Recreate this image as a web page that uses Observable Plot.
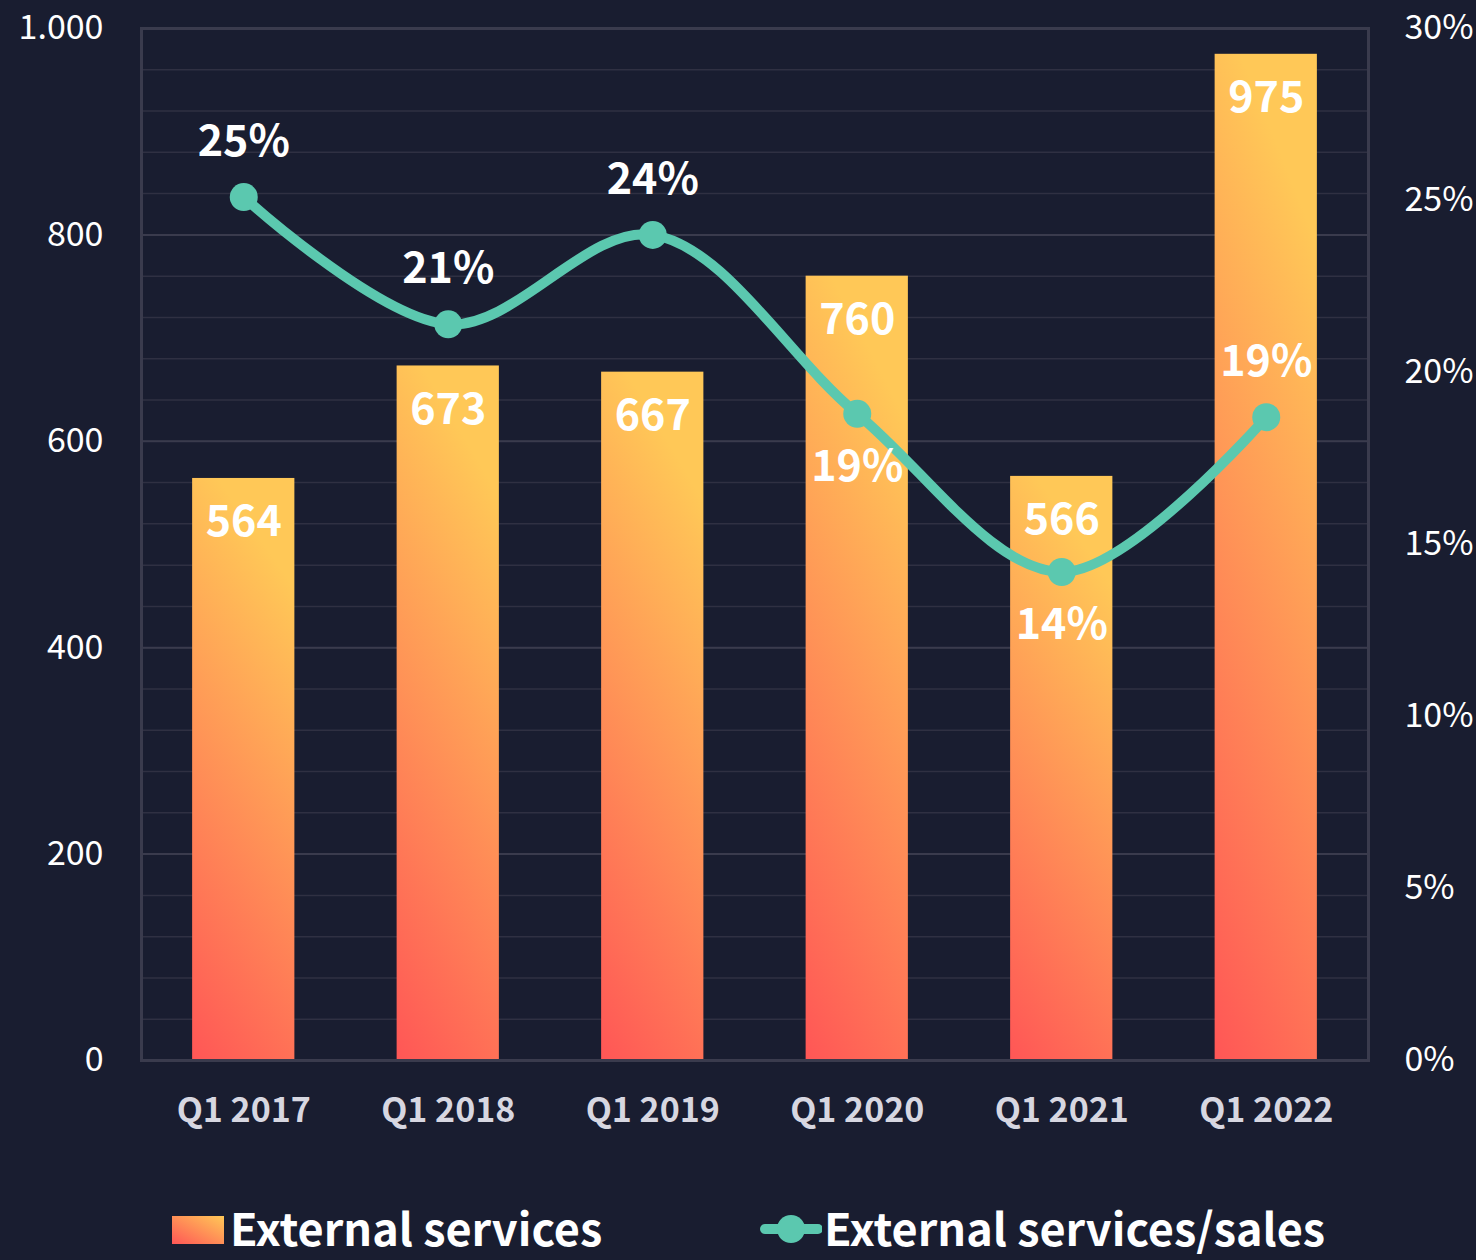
<!DOCTYPE html>
<html>
<head>
<meta charset="utf-8">
<script src="https://cdn.jsdelivr.net/npm/d3@7"></script>
<script src="https://cdn.jsdelivr.net/npm/@observablehq/plot@0.6"></script>
<style>
  html, body { margin: 0; padding: 0; background: #191d30; }
  body { width: 1476px; height: 1260px; overflow: hidden; font-family: 'Noto Sans CJK SC', 'Source Sans Pro', sans-serif; }
  #legend { position: absolute; top: 1203px; left: 0; width: 1476px; height: 46px; color: white; font-weight: bold; font-size: 45px; line-height: 1; }
  .item { position: absolute; top: 0; display: flex; align-items: center; height: 46px; }
  .item svg { margin-top: 6px; }
  .item span { margin-left: 6px; line-height: 1; }
</style>
</head>
<body>
<div id="chart"></div>
<div id="legend">
  <div class="item" style="left:172px">
    <svg width="52" height="30"><defs><linearGradient id="lg1" x1="0" y1="1" x2="1" y2="0"><stop offset="0" stop-color="#ff5656"/><stop offset="1" stop-color="#ffc857"/></linearGradient></defs><rect width="52" height="28" y="2" fill="url(#lg1)"/></svg>
    <span id="l1"></span>
  </div>
  <div class="item" style="left:760px">
    <svg width="62" height="32"><line x1="5" x2="58" y1="16" y2="16" stroke="#5bc8af" stroke-width="10" stroke-linecap="round"/><circle cx="31" cy="16" r="14" fill="#5bc8af"/></svg>
    <span id="l2" style="margin-left:2px"></span>
  </div>
</div>
<script>
const quarters = ["Q1 2017", "Q1 2018", "Q1 2019", "Q1 2020", "Q1 2021", "Q1 2022"];
const externalServices = [564, 673, 667, 760, 566, 975];
const servicesSalesPct = [25.1, 21.4, 24.0, 18.8, 14.2, 18.7];
const pctLabels = ["25%", "21%", "24%", "19%", "14%", "19%"];
const pctLabelSide = ["above", "above", "above", "below", "below", "above"];
const leftTicks = [0, 200, 400, 600, 800, 1000];
const rightTicks = [0, 5, 10, 15, 20, 25, 30];
const seriesNames = ["External services", "External services/sales"];

document.getElementById("l1").textContent = seriesNames[0];
document.getElementById("l2").textContent = seriesNames[1];

const PCT_MAX = 30, Y_MAX = 1000;
const toY = p => p / PCT_MAX * Y_MAX;

const bars = quarters.map((q, i) => ({q, v: externalServices[i]}));
const line = quarters.map((q, i) => ({q, p: servicesSalesPct[i], y: toY(servicesSalesPct[i]), label: pctLabels[i], side: pctLabelSide[i]}));

const de = d3.formatLocale({decimal: ",", thousands: ".", grouping: [3], currency: ["", "€"]});
const fmt = de.format(",");

const chart = Plot.plot({
  width: 1476,
  height: 1190,
  marginLeft: 141,
  marginRight: 108,
  marginTop: 28,
  marginBottom: 130,
  style: {background: "#191d30", color: "white", fontFamily: "'Noto Sans CJK SC', sans-serif", fontSize: "34px"},
  x: {domain: quarters, paddingInner: 0.5, paddingOuter: 0.25, round: false, label: null},
  y: {domain: [0, Y_MAX], label: null},
  marks: [
    Plot.gridY(d3.range(0, Y_MAX + 1, 40), {stroke: "#2f3042", strokeOpacity: 1, strokeWidth: 1.5}),
    Plot.gridY(leftTicks, {stroke: "#3a3b4d", strokeOpacity: 1, strokeWidth: 2}),
    Plot.barY(bars, {x: "q", y: "v", fill: "url(#barGrad)"}),
    Plot.frame({stroke: "#3a3b4d", strokeWidth: 3}),
    Plot.axisY(leftTicks, {anchor: "left", tickSize: 0, tickPadding: 38, tickFormat: fmt, fill: "white", fontSize: 34, label: null}),
    Plot.axisY(rightTicks.map(toY), {anchor: "right", tickSize: 0, tickPadding: 36, tickFormat: d => Math.round(d / Y_MAX * PCT_MAX) + "%", fill: "white", fontSize: 34, label: null}),
    Plot.axisX({tickSize: 0, tickPadding: 37, fontWeight: "bold", fill: "#d7d7e1", fontSize: 34, label: null}),
    Plot.text(bars, {x: "q", y: "v", text: d => String(d.v), dy: 44, fill: "white", fontWeight: "bold", fontSize: 43}),
    Plot.line(line, {x: "q", y: "y", stroke: "#5bc8af", strokeWidth: 10, curve: "catmull-rom"}),
    Plot.dot(line, {x: "q", y: "y", r: 14, fill: "#5bc8af"}),
    Plot.text(line.filter(d => d.side === "above"), {x: "q", y: "y", text: "label", dy: -55, fill: "white", fontWeight: "bold", fontSize: 43}),
    Plot.text(line.filter(d => d.side === "below"), {x: "q", y: "y", text: "label", dy: 53, fill: "white", fontWeight: "bold", fontSize: 43})
  ]
});

d3.select(chart).insert("defs", ":first-child").html(
  '<linearGradient id="barGrad" x1="0" y1="1" x2="0.25" y2="0"><stop offset="0" stop-color="#ff5656"/><stop offset="1" stop-color="#ffc857"/></linearGradient>'
);
document.getElementById("chart").appendChild(chart);
</script>
</body>
</html>
